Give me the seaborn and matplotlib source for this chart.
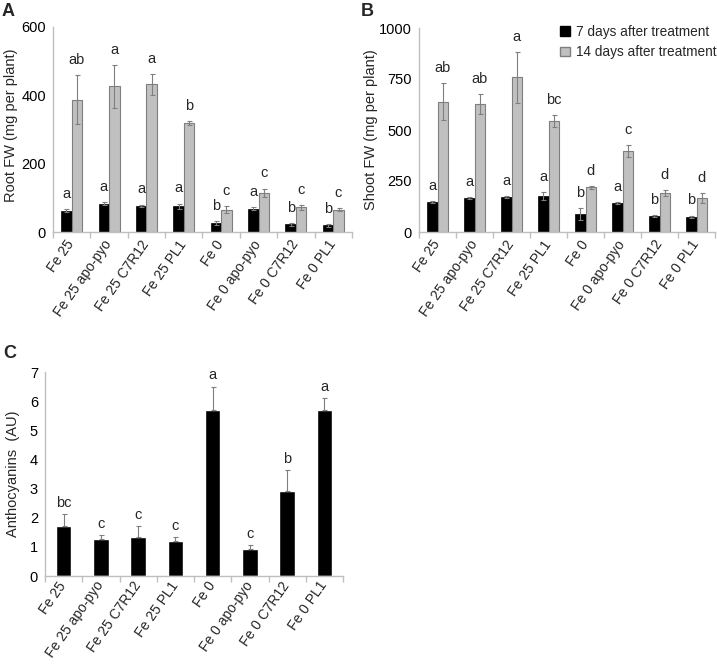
import numpy as np
import pandas as pd
import matplotlib
matplotlib.use('Agg')
import matplotlib.pyplot as plt
import matplotlib.transforms as mtransforms
from matplotlib.patches import Patch
import seaborn as sns

# Data
treatments = ['Fe 25', 'Fe 25 apo-pyo', 'Fe 25 C7R12', 'Fe 25 PL1',
              'Fe 0', 'Fe 0 apo-pyo', 'Fe 0 C7R12', 'Fe 0 PL1']
periods = ['7 days after treatment', '14 days after treatment']

root_7d = [62, 83, 76, 75, 26, 68, 22, 20]
root_7d_err = [4, 4, 4, 8, 5, 5, 3, 4]
root_14d = [387, 426, 432, 319, 65, 115, 72, 65]
root_14d_err = [72, 62, 30, 6, 10, 12, 7, 4]
root_7d_letters = ['a', 'a', 'a', 'a', 'b', 'a', 'b', 'b']
root_14d_letters = ['ab', 'a', 'a', 'b', 'c', 'c', 'c', 'c']

shoot_7d = [146, 165, 173, 176, 87, 141, 78, 75]
shoot_7d_err = [5, 5, 4, 18, 29, 4, 4, 5]
shoot_14d = [638, 626, 758, 544, 219, 397, 190, 167]
shoot_14d_err = [90, 49, 125, 29, 7, 30, 15, 25]
shoot_7d_letters = ['a', 'a', 'a', 'a', 'b', 'a', 'b', 'b']
shoot_14d_letters = ['ab', 'ab', 'a', 'bc', 'd', 'c', 'd', 'd']

antho = [1.7, 1.27, 1.33, 1.2, 5.7, 0.91, 2.9, 5.7]
antho_err = [0.42, 0.15, 0.37, 0.15, 0.8, 0.16, 0.75, 0.42]
antho_letters = ['bc', 'c', 'c', 'c', 'a', 'c', 'b', 'a']

sns.set_theme(style='white')
plt.rcParams['font.family'] = ['Liberation Sans', 'DejaVu Sans']

axis_grey = '#bfbfbf'
err_grey = '#7f7f7f'
bar_grey = '#c0c0c0'
fs = 10.5

fig = plt.figure(figsize=(7.17, 6.64), dpi=100)
W, H = 717, 664


def px_axes(left, top, right, bottom):
    return fig.add_axes([left / W, 1 - bottom / H, (right - left) / W, (bottom - top) / H])


def style_axis(ax, ymax, yticks, xpad=7):
    sns.despine(ax=ax)
    for s in ['left', 'bottom']:
        ax.spines[s].set_color(axis_grey)
        ax.spines[s].set_linewidth(1)
    ax.set_ylim(0, ymax)
    ax.set_yticks(yticks)
    ax.tick_params(axis='y', length=0, pad=5, labelsize=fs, colors='black')
    ax.set_xlim(-0.5, 7.5)
    ax.set_xticks(range(len(treatments)))
    ax.set_xticklabels(treatments, rotation=55, ha='right', va='center',
                       rotation_mode='anchor', fontsize=10)
    shift = mtransforms.ScaledTranslation(4 / 100, 0, fig.dpi_scale_trans)
    for lab in ax.get_xticklabels():
        lab.set_transform(lab.get_transform() + shift)
    ax.set_xticks(np.arange(-0.5, 8, 1), minor=True)
    ax.tick_params(axis='x', which='major', length=0, pad=xpad)
    ax.tick_params(axis='x', which='minor', length=4, width=1, color=axis_grey,
                   bottom=True)
    ax.set_xlabel('')
    ax.set_ylabel('')


def grouped_panel(ax, v7, e7, v14, e14, l7, l14):
    df = pd.DataFrame({
        'treatment': treatments * 2,
        'value': v7 + v14,
        'period': [periods[0]] * 8 + [periods[1]] * 8,
    })
    sns.barplot(data=df, x='treatment', y='value', hue='period',
                palette=['black', bar_grey], width=0.56, errorbar=None,
                saturation=1, legend=False, ax=ax)
    for bar in ax.containers[0]:
        bar.set_edgecolor('black')
        bar.set_linewidth(0.5)
    for bar in ax.containers[1]:
        bar.set_edgecolor(err_grey)
        bar.set_linewidth(0.8)
    for cont, vals, errs, letters in [(ax.containers[0], v7, e7, l7),
                                      (ax.containers[1], v14, e14, l14)]:
        xs = [b.get_x() + b.get_width() / 2 for b in cont]
        ax.errorbar(xs, vals, yerr=errs, fmt='none', ecolor=err_grey,
                    elinewidth=0.8, capsize=1.8, capthick=0.8)
        for x, v, e, t in zip(xs, vals, errs, letters):
            ax.annotate(t, (x, v + e), xytext=(0, 11), textcoords='offset points',
                        ha='center', va='center', fontsize=fs)


# Panel A
axA = px_axes(53, 27, 352, 232)
grouped_panel(axA, root_7d, root_7d_err, root_14d, root_14d_err,
              root_7d_letters, root_14d_letters)
style_axis(axA, 600, [0, 200, 400, 600])

# Panel B
axB = px_axes(419, 28, 715, 232)
grouped_panel(axB, shoot_7d, shoot_7d_err, shoot_14d, shoot_14d_err,
              shoot_7d_letters, shoot_14d_letters)
style_axis(axB, 1000, [0, 250, 500, 750, 1000])
handles = [Patch(facecolor='black', edgecolor='black'),
           Patch(facecolor=bar_grey, edgecolor=err_grey)]
axB.legend(handles, periods, frameon=False, fontsize=9.8, loc='upper right',
           bbox_to_anchor=(717 / W, 1 - 25 / H), bbox_transform=fig.transFigure,
           handlelength=0.7, handleheight=0.7, handletextpad=0.5,
           labelspacing=0.45, borderaxespad=0, borderpad=0)

# Panel C
axC = px_axes(45, 372, 343, 576)
dfc = pd.DataFrame({'treatment': treatments, 'value': antho})
sns.barplot(data=dfc, x='treatment', y='value', color='black', width=0.42,
            errorbar=None, saturation=1, ax=axC)
xs = [b.get_x() + b.get_width() / 2 for b in axC.containers[0]]
axC.errorbar(xs, antho, yerr=[np.zeros(len(antho)), antho_err], fmt='none',
             ecolor=err_grey, elinewidth=0.8, capsize=1.8, capthick=0.8)
for x, v, e, t in zip(xs, antho, antho_err, antho_letters):
    axC.annotate(t, (x, v + e), xytext=(0, 8), textcoords='offset points',
                 ha='center', va='center', fontsize=fs)
style_axis(axC, 7, range(8), xpad=5)

# Axis titles and panel letters
fig.text(11 / W, 1 - 125 / H, 'Root FW (mg per plant)', rotation=90,
         ha='center', va='center', fontsize=fs)
fig.text(371 / W, 1 - 130 / H, 'Shoot FW (mg per plant)', rotation=90,
         ha='center', va='center', fontsize=fs)
fig.text(13 / W, 1 - 474 / H, 'Anthocyanins  (AU)', rotation=90,
         ha='center', va='center', fontsize=fs)
fig.text(2 / W, 1 - 11 / H, 'A', fontsize=13, fontweight='bold', ha='left', va='center')
fig.text(361 / W, 1 - 11 / H, 'B', fontsize=13, fontweight='bold', ha='left', va='center')
fig.text(3 / W, 1 - 354 / H, 'C', fontsize=13, fontweight='bold', ha='left', va='center')

fig.savefig('out.png', dpi=100)
